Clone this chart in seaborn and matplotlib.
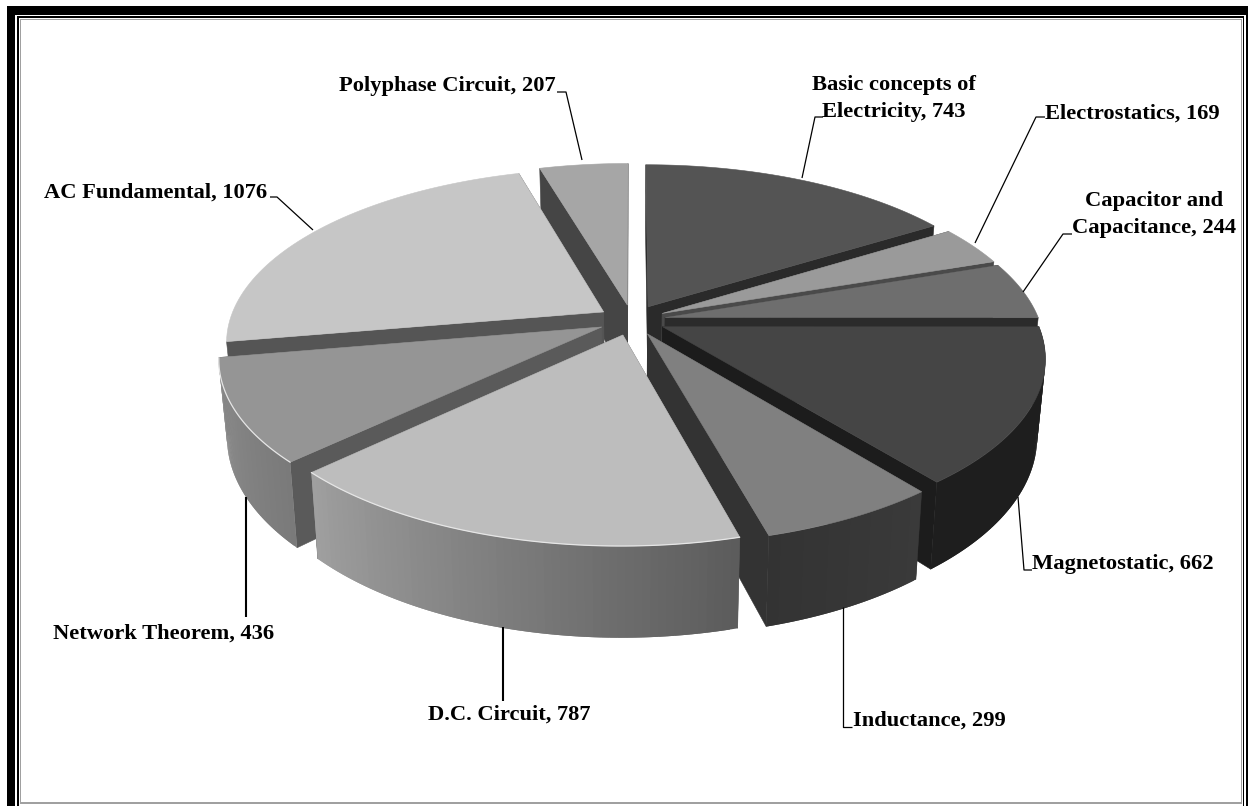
import numpy as np
import matplotlib
matplotlib.use("Agg")
import matplotlib.pyplot as plt
from matplotlib.patches import Polygon, Rectangle
import seaborn as sns

categories = ["Basic concepts of\nElectricity", "Electrostatics", "Capacitor and\nCapacitance",
              "Magnetostatic", "Inductance", "D.C. Circuit", "Network Theorem",
              "AC Fundamental", "Polyphase Circuit"]
values = [743, 169, 244, 662, 299, 787, 436, 1076, 207]

# styles
top_tones = ["#545454", "#9a9a9a", "#6e6e6e", "#454545", "#808080", "#bdbdbd", "#959595", "#c6c6c6", "#a6a6a6"]
wall_tones = ["#2a2a2a", "#4a4a4a", "#2b2b2b", "#1c1c1c", "#333333", "#5a5a5a", "#5a5a5a", "#555555", "#454545"]
rim_from = ["#333333", "#555555", "#3a3a3a", "#1e1e1e", "#3a3a3a", "#5c5c5c", "#7a7a7a", "#8a8a8a", "#777777"]
rim_to = ["#333333", "#555555", "#3a3a3a", "#1e1e1e", "#333333", "#a0a0a0", "#8e8e8e", "#9a9a9a", "#777777"]
highlight = [False, False, False, False, False, True, True, False, False]
label_xy = [(894, 98.5), (1132, 113.5), (1154.5, 214.5), (1123, 563.5), (929, 720.5), (509, 714.5), (164, 633.5), (156, 192.5), (447, 86.5)]
leaders = [[(802, 178), (815, 117), (823, 117)], [(975, 243), (1036, 117), (1045, 117)],
           [(1023, 292), (1063, 234), (1072, 234)], [(1018, 497), (1024, 570), (1032, 570)],
           [(843, 607), (843, 727), (852, 727)], [(503, 627), (503, 701)],
           [(246, 497), (246, 617)], [(270, 197), (277, 197), (313, 230)],
           [(557, 92), (566, 92), (582, 160)]]
leader_lw = [0.9, 0.9, 0.9, 0.9, 0.9, 1.5, 1.5, 0.9, 0.9]

sns.set_theme(style="white")
plt.rcParams["font.family"] = ["Liberation Serif", "DejaVu Serif"]
fig, ax = plt.subplots(figsize=(12.48, 8.06), dpi=100)
fig.subplots_adjust(0, 0, 1, 1)
ax.set_xlim(0, 1248)
ax.set_ylim(806, 0)
ax.set_axis_off()
sns.despine(ax=ax, left=True, bottom=True)

# frame
ax.add_patch(Rectangle((7, 6), 1241, 800, fc="black", ec="none", zorder=0))
ax.add_patch(Rectangle((15, 14.5), 1231, 800, fc="white", ec="none", zorder=0))
ax.add_patch(Rectangle((17, 16), 1227, 800, fc="black", ec="none", zorder=0))
ax.add_patch(Rectangle((18.5, 17.5), 1224, 800, fc="white", ec="none", zorder=0))
ax.add_patch(Rectangle((19.5, 18.5), 1222.5, 785, fc="#a0a0a0", ec="none", zorder=0))
ax.add_patch(Rectangle((21, 20), 1219.5, 781.5, fc="white", ec="none", zorder=0))

CX, CY, RX, RY, H, P, EXPL = 632, 320, 374, 170, 75, 0.168, 0.09


def project(u, v, z=0.0):
    s = 1 / (1 + P * v)
    return CX + RX * u * s * (1 + 0.02 * z), CY - RY * v * s - H * z * s


edges = np.concatenate([[0], np.cumsum(values)]) / sum(values) * 360
rim_limit = edges[7]  # the rim disappears behind the neighbours beyond this angle
order = sorted(range(len(values)),
               key=lambda i: -np.cos(np.radians((edges[i] + edges[i + 1]) / 2)))

for i in order:
    a0, a1 = edges[i], edges[i + 1]
    mid = np.radians((a0 + a1) / 2)
    ou, ov = EXPL * np.sin(mid), EXPL * np.cos(mid)
    deg = np.linspace(a0, a1, 60)
    th = np.radians(deg)
    us, vs = ou + np.sin(th), ov + np.cos(th)
    # radial walls
    for t in (th[0], th[-1]):
        e_u, e_v = ou + np.sin(t), ov + np.cos(t)
        ax.add_patch(Polygon([project(ou, ov), project(e_u, e_v), project(e_u, e_v, -1), project(ou, ov, -1)],
                             fc=wall_tones[i], ec=wall_tones[i], lw=0.4, zorder=2))
    # rim with gradient, only the part that faces the viewer
    idx = np.where((deg >= 90) & (deg <= rim_limit))[0]
    if len(idx) > 1:
        grad = sns.blend_palette([rim_from[i], rim_to[i]], len(idx))
        for n, k in enumerate(idx[:-1]):
            e = min(k + 2, idx[-1])
            ax.add_patch(Polygon([project(us[k], vs[k]), project(us[e], vs[e]),
                                  project(us[e], vs[e], -1), project(us[k], vs[k], -1)],
                                 fc=grad[n], ec="none", zorder=2))
    # top
    pts = [project(ou, ov)] + [project(a, b) for a, b in zip(us, vs)]
    ax.add_patch(Polygon(pts, fc=top_tones[i], ec=top_tones[i], lw=0.4, zorder=2))
    if highlight[i]:
        xs, ys = zip(*[project(a, b) for a, b in zip(us, vs)])
        ax.plot(xs, ys, color="#e6e6e6", lw=0.9, zorder=2)

for cat, val, xy, path, lw in zip(categories, values, label_xy, leaders, leader_lw):
    xs, ys = zip(*path)
    ax.plot(xs, ys, color="black", lw=lw, zorder=3, solid_capstyle="butt")
    ax.text(xy[0], xy[1], f"{cat}, {val}", ha="center", va="center", fontsize=16.2,
            fontweight="bold", color="black", linespacing=1.42, zorder=4)

fig.savefig("out.png", dpi=100)
